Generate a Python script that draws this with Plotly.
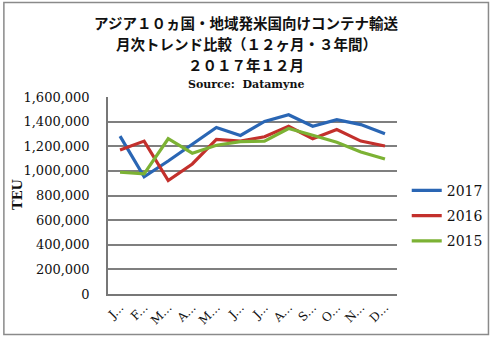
import plotly.graph_objects as go

# Monthly container volumes (TEU), Asia 10 countries/regions -> USA
months = ["J...", "F...", "M...", "A...", "M...", "J...", "J...", "A...", "S...", "O...", "N...", "D..."]
month_keys = list(range(12))
teu_2017 = [1282000, 952000, 1080000, 1215000, 1352000, 1288000, 1402000, 1456000, 1362000, 1416000, 1376000, 1301000]
teu_2016 = [1170000, 1242000, 922000, 1056000, 1256000, 1242000, 1277000, 1362000, 1261000, 1336000, 1242000, 1202000]
teu_2015 = [989000, 976000, 1261000, 1144000, 1208000, 1237000, 1242000, 1344000, 1290000, 1232000, 1154000, 1096000]

y_ticks = [0, 200000, 400000, 600000, 800000, 1000000, 1200000, 1400000, 1600000]
y_tick_text = [f"{v:,}" for v in y_ticks]

title_lines = [
    "アジア１０ヵ国・地域発米国向けコンテナ輸送",
    "月次トレンド比較（１２ヶ月・３年間）",
    "２０１７年１２月",
]
source_text = "Source:  Datamyne"

W, H = 500, 339
L, R, T, B = 108, 95, 97, 42
pw, ph = W - L - R, H - T - B

serif = "DejaVu Serif"
cjk = "Noto Sans CJK JP"


def px_x(x):
    return (x - L) / pw


def px_y(y):
    return (H - y - B) / ph


fig = go.Figure()
series = [("2017", teu_2017, "#2a66b4"), ("2016", teu_2016, "#c3302c"), ("2015", teu_2015, "#7cb234")]
for name, vals, col in series:
    fig.add_trace(go.Scatter(
        x=month_keys, y=vals, name=name, mode="lines",
        line=dict(color=col, width=3.2), legendgroup=name,
    ))

fig.update_layout(
    width=W, height=H,
    margin=dict(l=L, r=R, t=T, b=B),
    paper_bgcolor="white", plot_bgcolor="white",
    showlegend=True,
    legend=dict(
        x=px_x(415), y=px_y(176), xanchor="left", yanchor="top",
        font=dict(family=serif, size=14, color="#111"),
        tracegroupgap=4, itemwidth=30, bgcolor="rgba(0,0,0,0)",
    ),
    xaxis=dict(
        tickmode="array", tickvals=month_keys, ticktext=months, tickangle=-45,
        range=[-0.5, 11.5], showgrid=False, zeroline=False,
        showline=True, linecolor="#777", linewidth=1.5,
        ticks="", tickfont=dict(family=serif, size=12, color="#111"),
    ),
    yaxis=dict(
        range=[0, 1600000], tickmode="array", tickvals=y_ticks, ticktext=y_tick_text,
        showgrid=True, gridcolor="#7f7f7f", gridwidth=1.5, zeroline=False,
        showline=True, linecolor="#777", linewidth=1.5,
        ticks="", ticklabelstandoff=14,
        tickfont=dict(family=serif, size=13, color="#111"),
    ),
)

# Title lines, one annotation each
for txt, yc in zip(title_lines, [21, 42.5, 64]):
    fig.add_annotation(
        text=f"<b>{txt}</b>", xref="paper", yref="paper",
        x=px_x(250), y=px_y(yc), showarrow=False,
        xanchor="center", yanchor="middle", borderpad=0,
        font=dict(family=cjk, size=14.5, color="#111"),
    )
fig.add_annotation(
    text=f"<b>{source_text}</b>", xref="paper", yref="paper",
    x=px_x(250), y=px_y(84), showarrow=False,
    xanchor="center", yanchor="middle", borderpad=0,
    font=dict(family=serif, size=11, color="#111"),
)

# Y axis title
fig.add_annotation(
    text="<b>TEU</b>", xref="paper", yref="paper",
    x=px_x(15), y=px_y(196), showarrow=False, textangle=-90,
    xanchor="center", yanchor="middle",
    font=dict(family=serif, size=13, color="#111"),
)

# Outer chart border
fig.add_shape(
    type="rect", xref="paper", yref="paper",
    x0=px_x(1), x1=px_x(W - 1), y0=px_y(H - 1), y1=px_y(1),
    line=dict(color="#8a8a8a", width=1.5),
)

fig.write_html("out.html")
